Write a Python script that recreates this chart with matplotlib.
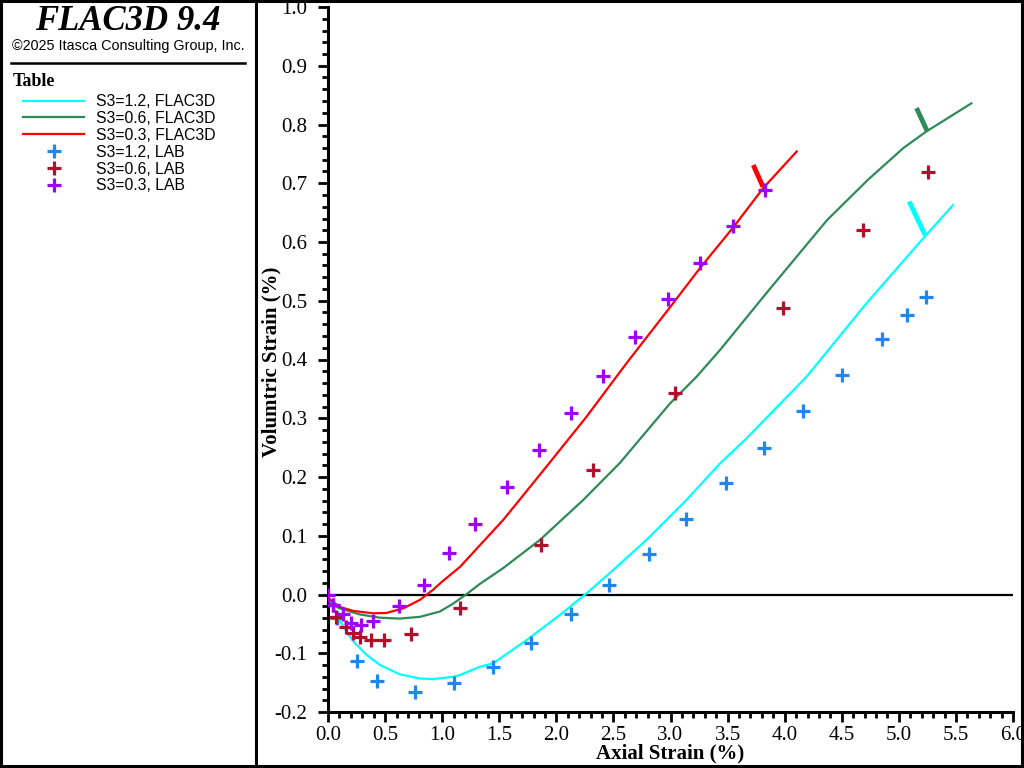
import matplotlib
matplotlib.use("Agg")
import matplotlib.pyplot as plt
from matplotlib.lines import Line2D
from matplotlib.ticker import MultipleLocator, FormatStrFormatter

# ---- data ----
flac_12_x = [0, 0.03, 0.076, 0.134, 0.222, 0.339, 0.455, 0.63, 0.806, 0.92, 1.10, 1.156, 1.33, 1.448,
             1.74, 2.03, 2.265, 2.50, 2.79, 3.14, 3.433, 3.667, 4.193, 4.718, 5.185, 5.475]
flac_12_y = [-0.004, -0.012, -0.035, -0.055, -0.080, -0.103, -0.12, -0.136, -0.143, -0.144, -0.140,
             -0.137, -0.123, -0.117, -0.0775, -0.035, 0.002, 0.042, 0.093, 0.161, 0.223, 0.266, 0.371,
             0.496, 0.60, 0.663]

flac_06_x = [0, 0.02, 0.10, 0.28, 0.455, 0.63, 0.806, 0.98, 1.10, 1.21, 1.33, 1.535, 1.857, 2.236,
             2.557, 2.995, 3.23, 3.433, 3.84, 4.37, 4.73, 5.04, 5.24, 5.635]
flac_06_y = [-0.006, -0.015, -0.0235, -0.034, -0.0395, -0.041, -0.038, -0.029, -0.015, 0.0, 0.018,
             0.045, 0.093, 0.161, 0.224, 0.325, 0.371, 0.416, 0.513, 0.637, 0.706, 0.76, 0.788, 0.836]

flac_03_x = [0, 0.02, 0.10, 0.222, 0.397, 0.51, 0.66, 0.806, 0.92, 1.0, 1.156, 1.535, 1.915, 2.266,
             2.616, 3.0, 3.26, 3.55, 3.813, 4.105]
flac_03_y = [-0.004, -0.009, -0.021, -0.028, -0.032, -0.0315, -0.0235, -0.009, 0.008, 0.022, 0.047,
             0.127, 0.218, 0.303, 0.394, 0.49, 0.556, 0.625, 0.692, 0.754]

lab_12_x = [0.076, 0.257, 0.426, 0.76, 1.10, 1.445, 1.78, 2.13, 2.46, 2.81, 3.14, 3.49, 3.82, 4.16,
            4.50, 4.85, 5.07, 5.24]
lab_12_y = [-0.04, -0.113, -0.147, -0.166, -0.151, -0.123, -0.083, -0.034, 0.016, 0.069, 0.128, 0.19,
            0.249, 0.312, 0.374, 0.435, 0.476, 0.506]

lab_06_x = [0.047, 0.07, 0.158, 0.222, 0.28, 0.374, 0.49, 0.73, 1.16, 1.865, 2.32, 3.04, 3.985, 4.69, 5.255]
lab_06_y = [-0.018, -0.039, -0.056, -0.066, -0.073, -0.077, -0.077, -0.068, -0.0235, 0.084, 0.212, 0.343,
            0.488, 0.620, 0.719]

lab_03_x = [0.0, 0.047, 0.135, 0.20, 0.29, 0.397, 0.62, 0.84, 1.06, 1.29, 1.57, 1.85, 2.13, 2.41, 2.69,
            2.98, 3.26, 3.55, 3.83]
lab_03_y = [0.0, -0.018, -0.033, -0.049, -0.052, -0.045, -0.020, 0.017, 0.071, 0.12, 0.183, 0.246, 0.309,
            0.372, 0.438, 0.503, 0.564, 0.627, 0.689]

# small annotation ticks at curve ends
tick_03_x = [3.725, 3.81]
tick_03_y = [0.731, 0.694]
tick_06_x = [5.155, 5.25]
tick_06_y = [0.828, 0.788]
tick_12_x = [5.09, 5.23]
tick_12_y = [0.669, 0.612]

labels = ["S3=1.2, FLAC3D", "S3=0.6, FLAC3D", "S3=0.3, FLAC3D",
          "S3=1.2, LAB", "S3=0.6, LAB", "S3=0.3, LAB"]

c_cyan = "#00FFFF"
c_green = "#2E8B57"
c_red = "#FF0000"
c_blue = "#1E88F0"
c_dred = "#B0102A"
c_purple = "#A000FF"

W, H = 1024, 768
fig = plt.figure(figsize=(W / 100, H / 100), dpi=100)
serif = ["Liberation Serif", "DejaVu Serif"]
sans = ["Liberation Sans", "DejaVu Sans"]

ax = fig.add_axes([328 / W, 1 - 712 / H, (1013 - 328) / W, (712 - 7) / H])

l1, = ax.plot(flac_12_x, flac_12_y, color=c_cyan, lw=1.6, zorder=3)
l2, = ax.plot(flac_06_x, flac_06_y, color=c_green, lw=1.6, zorder=3)
l3, = ax.plot(flac_03_x, flac_03_y, color=c_red, lw=1.6, zorder=3)
ax.plot(tick_12_x, tick_12_y, color=c_cyan, lw=3.5, solid_capstyle="butt", zorder=3)
ax.plot(tick_06_x, tick_06_y, color=c_green, lw=3.5, solid_capstyle="butt", zorder=3)
ax.plot(tick_03_x, tick_03_y, color=c_red, lw=3.5, solid_capstyle="butt", zorder=3)

mk = dict(ls="none", marker="+", ms=10, mew=2.3, zorder=4)
m1, = ax.plot(lab_12_x, lab_12_y, color=c_blue, **mk)
m2, = ax.plot(lab_06_x, lab_06_y, color=c_dred, **mk)
m3, = ax.plot(lab_03_x, lab_03_y, color=c_purple, **mk)

ax.axhline(0, color="black", lw=1.6, zorder=2)

ax.set_xlim(0, 6.0)
ax.set_ylim(-0.2, 1.0)
ax.xaxis.set_major_locator(MultipleLocator(0.5))
ax.xaxis.set_minor_locator(MultipleLocator(0.1))
ax.yaxis.set_major_locator(MultipleLocator(0.1))
ax.yaxis.set_minor_locator(MultipleLocator(0.02))
ax.xaxis.set_major_formatter(FormatStrFormatter("%.1f"))
ax.yaxis.set_major_formatter(FormatStrFormatter("%.1f"))
for s in ["top", "right"]:
    ax.spines[s].set_visible(False)
for s in ["left", "bottom"]:
    ax.spines[s].set_linewidth(2.2)
ax.tick_params(which="major", length=7, width=2, direction="out", labelsize=15)
ax.tick_params(axis="y", which="major", pad=8)
ax.tick_params(axis="x", which="major", pad=3)
ax.tick_params(which="minor", length=4, width=2, direction="out")
for lab in ax.get_xticklabels() + ax.get_yticklabels():
    lab.set_fontfamily(serif)
ax.set_xlabel("Axial Strain (%)", fontfamily=serif, fontweight="bold", fontsize=15, labelpad=-1)
ax.set_ylabel("Volumtric Strain (%)", fontfamily=serif, fontweight="bold", fontsize=15)
ax.yaxis.set_label_coords((281 - 328) / (1013 - 328), 0.497)

# ---- frame and left panel ----
def fline(x0, y0, x1, y1, lw=2.2):
    fig.add_artist(Line2D([x0 / W, x1 / W], [1 - y0 / H, 1 - y1 / H], color="black", lw=lw,
                          transform=fig.transFigure))

fline(1, 0, 1, 767)
fline(0, 1, 1022, 1)
fline(0, 766, 1022, 766)
fline(1022, 0, 1022, 767)
fline(256, 0, 256, 767)
fline(11, 63, 245, 63, lw=1.8)

fig.text(128 / W, 1 - 22 / H, "FLAC3D 9.4", ha="center", va="center", fontfamily=serif,
         fontweight="bold", fontstyle="italic", fontsize=25)
fig.text(128 / W, 1 - 46 / H, "\u00a92025 Itasca Consulting Group, Inc.", ha="center", va="center",
         fontfamily=sans, fontsize=10.4)
fig.text(13 / W, 1 - 82 / H, "Table", ha="left", va="center", fontfamily=serif,
         fontweight="bold", fontsize=13)

leg = fig.legend([l1, l2, l3, m1, m2, m3], labels, loc="upper left",
                 bbox_to_anchor=(23 / W, 1 - 94 / H), frameon=False,
                 prop={"family": sans, "size": 11.3}, handlelength=3.9, handletextpad=0.75,
                 labelspacing=0.12, borderpad=0, borderaxespad=0)

fig.savefig("out.png", dpi=100)
